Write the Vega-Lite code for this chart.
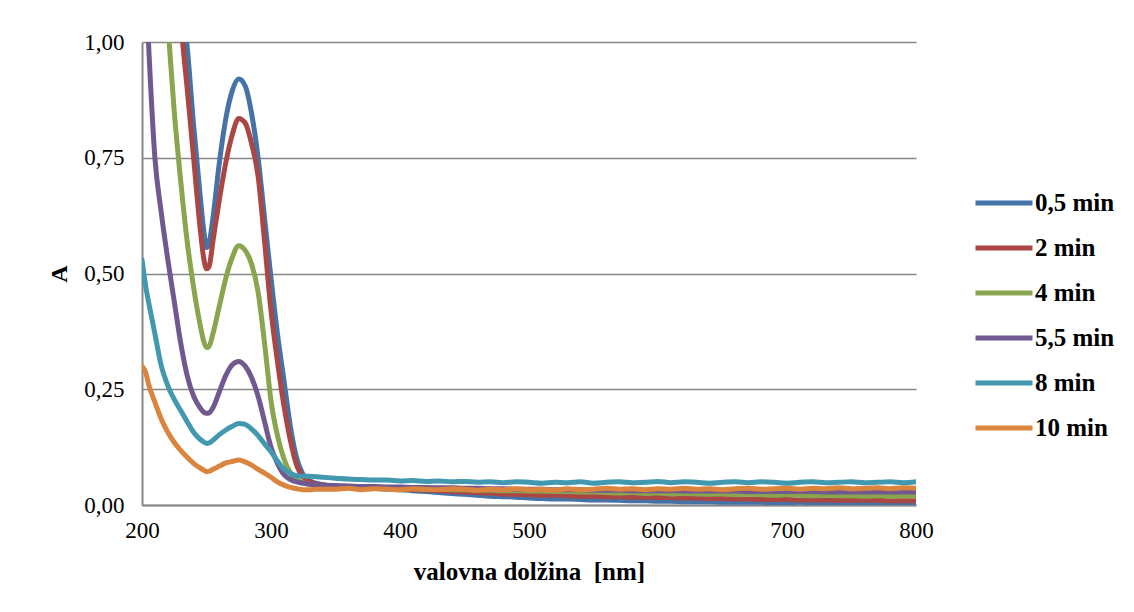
{
  "$schema": "https://vega.github.io/schema/vega-lite/v6.json",
  "width": 774,
  "height": 463,
  "autosize": {"type": "none"},
  "padding": {"left": 142, "top": 42, "right": 218, "bottom": 107},
  "background": "white",
  "config": {
    "view": {"stroke": null},
    "font": "Liberation Serif"
  },
  "data": {
    "values": [
      {"wl":200,"t05":2.6,"t2":2.6,"t4":2.0,"t55":1.4,"t8":0.53,"t10":0.30},
      {"wl":203,"t05":2.4,"t2":2.38,"t4":1.82,"t55":1.12,"t8":0.47,"t10":0.285},
      {"wl":205,"t05":2.3,"t2":2.25,"t4":1.7,"t55":1.0,"t8":0.44,"t10":0.262},
      {"wl":210,"t05":2.0,"t2":1.9,"t4":1.45,"t55":0.75,"t8":0.37,"t10":0.222},
      {"wl":215,"t05":1.7,"t2":1.6,"t4":1.22,"t55":0.63,"t8":0.3,"t10":0.185},
      {"wl":220,"t05":1.45,"t2":1.35,"t4":1.04,"t55":0.53,"t8":0.258,"t10":0.157},
      {"wl":225,"t05":1.25,"t2":1.17,"t4":0.85,"t55":0.44,"t8":0.228,"t10":0.135},
      {"wl":230,"t05":1.1,"t2":1.04,"t4":0.7,"t55":0.35,"t8":0.204,"t10":0.118},
      {"wl":235,"t05":0.99,"t2":0.9,"t4":0.57,"t55":0.28,"t8":0.18,"t10":0.103},
      {"wl":240,"t05":0.82,"t2":0.75,"t4":0.47,"t55":0.235,"t8":0.157,"t10":0.09},
      {"wl":245,"t05":0.67,"t2":0.6,"t4":0.39,"t55":0.21,"t8":0.142,"t10":0.08},
      {"wl":248,"t05":0.59,"t2":0.53,"t4":0.352,"t55":0.2,"t8":0.136,"t10":0.075},
      {"wl":250,"t05":0.556,"t2":0.51,"t4":0.34,"t55":0.198,"t8":0.133,"t10":0.072},
      {"wl":252,"t05":0.565,"t2":0.515,"t4":0.343,"t55":0.199,"t8":0.134,"t10":0.073},
      {"wl":255,"t05":0.62,"t2":0.57,"t4":0.37,"t55":0.21,"t8":0.14,"t10":0.077},
      {"wl":260,"t05":0.74,"t2":0.66,"t4":0.43,"t55":0.245,"t8":0.152,"t10":0.084},
      {"wl":265,"t05":0.835,"t2":0.74,"t4":0.49,"t55":0.28,"t8":0.162,"t10":0.091},
      {"wl":270,"t05":0.895,"t2":0.8,"t4":0.535,"t55":0.303,"t8":0.17,"t10":0.094},
      {"wl":275,"t05":0.92,"t2":0.835,"t4":0.56,"t55":0.31,"t8":0.176,"t10":0.097},
      {"wl":280,"t05":0.905,"t2":0.825,"t4":0.55,"t55":0.3,"t8":0.174,"t10":0.093},
      {"wl":285,"t05":0.845,"t2":0.78,"t4":0.52,"t55":0.275,"t8":0.164,"t10":0.086},
      {"wl":290,"t05":0.75,"t2":0.71,"t4":0.46,"t55":0.235,"t8":0.15,"t10":0.077},
      {"wl":295,"t05":0.62,"t2":0.57,"t4":0.35,"t55":0.18,"t8":0.132,"t10":0.069},
      {"wl":300,"t05":0.49,"t2":0.42,"t4":0.225,"t55":0.125,"t8":0.115,"t10":0.06},
      {"wl":305,"t05":0.37,"t2":0.31,"t4":0.15,"t55":0.09,"t8":0.095,"t10":0.05},
      {"wl":310,"t05":0.27,"t2":0.215,"t4":0.1,"t55":0.066,"t8":0.078,"t10":0.043},
      {"wl":315,"t05":0.17,"t2":0.14,"t4":0.07,"t55":0.055,"t8":0.068,"t10":0.038},
      {"wl":320,"t05":0.1,"t2":0.085,"t4":0.055,"t55":0.05,"t8":0.063,"t10":0.035},
      {"wl":325,"t05":0.065,"t2":0.06,"t4":0.048,"t55":0.047,"t8":0.062,"t10":0.033},
      {"wl":330,"t05":0.052,"t2":0.05,"t4":0.045,"t55":0.045,"t8":0.062,"t10":0.033},
      {"wl":335,"t05":0.047,"t2":0.045,"t4":0.043,"t55":0.044,"t8":0.061,"t10":0.034},
      {"wl":340,"t05":0.044,"t2":0.043,"t4":0.042,"t55":0.043,"t8":0.06,"t10":0.034},
      {"wl":350,"t05":0.040,"t2":0.040,"t4":0.040,"t55":0.042,"t8":0.058,"t10":0.034},
      {"wl":360,"t05":0.038,"t2":0.039,"t4":0.039,"t55":0.041,"t8":0.056,"t10":0.036},
      {"wl":370,"t05":0.037,"t2":0.038,"t4":0.038,"t55":0.040,"t8":0.055,"t10":0.033},
      {"wl":380,"t05":0.036,"t2":0.037,"t4":0.037,"t55":0.040,"t8":0.054,"t10":0.035},
      {"wl":390,"t05":0.034,"t2":0.036,"t4":0.036,"t55":0.039,"t8":0.054,"t10":0.034},
      {"wl":400,"t05":0.033,"t2":0.035,"t4":0.035,"t55":0.039,"t8":0.052,"t10":0.033},
      {"wl":410,"t05":0.031,"t2":0.033,"t4":0.035,"t55":0.038,"t8":0.053,"t10":0.035},
      {"wl":420,"t05":0.029,"t2":0.032,"t4":0.034,"t55":0.038,"t8":0.051,"t10":0.034},
      {"wl":430,"t05":0.027,"t2":0.031,"t4":0.034,"t55":0.037,"t8":0.052,"t10":0.033},
      {"wl":440,"t05":0.025,"t2":0.029,"t4":0.033,"t55":0.037,"t8":0.050,"t10":0.035},
      {"wl":450,"t05":0.023,"t2":0.028,"t4":0.033,"t55":0.036,"t8":0.051,"t10":0.034},
      {"wl":460,"t05":0.021,"t2":0.027,"t4":0.032,"t55":0.036,"t8":0.049,"t10":0.032},
      {"wl":470,"t05":0.019,"t2":0.026,"t4":0.032,"t55":0.035,"t8":0.050,"t10":0.034},
      {"wl":480,"t05":0.018,"t2":0.024,"t4":0.031,"t55":0.035,"t8":0.048,"t10":0.033},
      {"wl":490,"t05":0.017,"t2":0.023,"t4":0.031,"t55":0.034,"t8":0.050,"t10":0.035},
      {"wl":500,"t05":0.015,"t2":0.022,"t4":0.030,"t55":0.034,"t8":0.049,"t10":0.033},
      {"wl":510,"t05":0.014,"t2":0.021,"t4":0.030,"t55":0.034,"t8":0.047,"t10":0.034},
      {"wl":520,"t05":0.013,"t2":0.021,"t4":0.029,"t55":0.033,"t8":0.049,"t10":0.032},
      {"wl":530,"t05":0.013,"t2":0.020,"t4":0.029,"t55":0.033,"t8":0.048,"t10":0.035},
      {"wl":540,"t05":0.012,"t2":0.019,"t4":0.028,"t55":0.033,"t8":0.050,"t10":0.033},
      {"wl":550,"t05":0.011,"t2":0.019,"t4":0.028,"t55":0.032,"t8":0.047,"t10":0.034},
      {"wl":560,"t05":0.011,"t2":0.018,"t4":0.027,"t55":0.032,"t8":0.049,"t10":0.036},
      {"wl":570,"t05":0.010,"t2":0.018,"t4":0.026,"t55":0.032,"t8":0.050,"t10":0.034},
      {"wl":580,"t05":0.009,"t2":0.017,"t4":0.027,"t55":0.031,"t8":0.048,"t10":0.035},
      {"wl":590,"t05":0.009,"t2":0.017,"t4":0.025,"t55":0.031,"t8":0.049,"t10":0.033},
      {"wl":600,"t05":0.008,"t2":0.016,"t4":0.026,"t55":0.031,"t8":0.051,"t10":0.035},
      {"wl":610,"t05":0.008,"t2":0.016,"t4":0.024,"t55":0.031,"t8":0.048,"t10":0.034},
      {"wl":620,"t05":0.007,"t2":0.015,"t4":0.025,"t55":0.030,"t8":0.050,"t10":0.036},
      {"wl":630,"t05":0.007,"t2":0.015,"t4":0.024,"t55":0.030,"t8":0.049,"t10":0.034},
      {"wl":640,"t05":0.007,"t2":0.014,"t4":0.023,"t55":0.030,"t8":0.047,"t10":0.035},
      {"wl":650,"t05":0.006,"t2":0.014,"t4":0.024,"t55":0.030,"t8":0.049,"t10":0.033},
      {"wl":660,"t05":0.006,"t2":0.013,"t4":0.022,"t55":0.030,"t8":0.050,"t10":0.035},
      {"wl":670,"t05":0.006,"t2":0.013,"t4":0.023,"t55":0.029,"t8":0.048,"t10":0.036},
      {"wl":680,"t05":0.006,"t2":0.012,"t4":0.022,"t55":0.029,"t8":0.050,"t10":0.034},
      {"wl":690,"t05":0.005,"t2":0.012,"t4":0.021,"t55":0.029,"t8":0.049,"t10":0.035},
      {"wl":700,"t05":0.005,"t2":0.012,"t4":0.022,"t55":0.029,"t8":0.047,"t10":0.036},
      {"wl":710,"t05":0.006,"t2":0.011,"t4":0.021,"t55":0.029,"t8":0.049,"t10":0.034},
      {"wl":720,"t05":0.005,"t2":0.011,"t4":0.020,"t55":0.029,"t8":0.050,"t10":0.036},
      {"wl":730,"t05":0.005,"t2":0.011,"t4":0.021,"t55":0.028,"t8":0.048,"t10":0.035},
      {"wl":740,"t05":0.004,"t2":0.010,"t4":0.020,"t55":0.028,"t8":0.049,"t10":0.037},
      {"wl":750,"t05":0.005,"t2":0.010,"t4":0.020,"t55":0.028,"t8":0.050,"t10":0.035},
      {"wl":760,"t05":0.004,"t2":0.010,"t4":0.019,"t55":0.028,"t8":0.048,"t10":0.036},
      {"wl":770,"t05":0.005,"t2":0.010,"t4":0.020,"t55":0.028,"t8":0.049,"t10":0.037},
      {"wl":780,"t05":0.004,"t2":0.009,"t4":0.019,"t55":0.028,"t8":0.050,"t10":0.035},
      {"wl":790,"t05":0.004,"t2":0.009,"t4":0.020,"t55":0.028,"t8":0.048,"t10":0.037},
      {"wl":800,"t05":0.004,"t2":0.009,"t4":0.019,"t55":0.028,"t8":0.050,"t10":0.036}
    ]
  },
  "transform": [
    {"fold": ["t05", "t2", "t4", "t55", "t8", "t10"], "as": ["series", "A"]}
  ],
  "mark": {"type": "line", "clip": true, "strokeWidth": 5, "strokeCap": "round", "strokeJoin": "round", "interpolate": "monotone"},
  "encoding": {
    "x": {
      "field": "wl", "type": "quantitative",
      "scale": {"domain": [200, 800], "nice": false, "zero": false},
      "axis": {
        "title": "valovna dolžina\u00a0 [nm]",
        "values": [200, 300, 400, 500, 600, 700, 800],
        "grid": false, "ticks": false, "labelFlush": false,
        "domainColor": "#868686", "domainWidth": 2,
        "labelFont": "Liberation Serif", "labelFontSize": 23, "labelColor": "#000000",
        "labelPadding": 14,
        "titleFont": "Liberation Serif", "titleFontSize": 25, "titleFontWeight": "bold", "titleColor": "#000000",
        "titlePadding": 17
      }
    },
    "y": {
      "field": "A", "type": "quantitative",
      "scale": {"domain": [0, 1], "nice": false},
      "axis": {
        "title": "A",
        "values": [0, 0.25, 0.5, 0.75, 1],
        "labelExpr": "replace(format(datum.value, '.2f'), '.', ',')",
        "grid": true, "gridColor": "#868686", "gridWidth": 1.5,
        "ticks": false,
        "domainColor": "#868686", "domainWidth": 2,
        "labelFont": "Liberation Serif", "labelFontSize": 23, "labelColor": "#000000",
        "labelPadding": 18,
        "titleFont": "Liberation Serif", "titleFontSize": 24, "titleFontWeight": "bold", "titleColor": "#000000",
        "titlePadding": 12
      }
    },
    "color": {
      "field": "series", "type": "nominal",
      "scale": {
        "domain": ["t05", "t2", "t4", "t55", "t8", "t10"],
        "range": ["#4572A7", "#AA4643", "#89A54E", "#71588F", "#4198AF", "#DB843D"]
      },
      "legend": {
        "title": null,
        "orient": "none",
        "legendX": 831,
        "legendY": 130,
        "padding": 0,
        "symbolType": "stroke",
        "symbolSize": 3249,
        "symbolStrokeWidth": 5,
        "rowPadding": 1,
        "labelOffset": 0,
        "labelFont": "Liberation Serif", "labelFontSize": 25, "labelFontWeight": "bold", "labelColor": "#000000",
        "labelExpr": "{'t05':'0,5 min','t2':'2 min','t4':'4 min','t55':'5,5 min','t8':'8 min','t10':'10 min'}[datum.value]"
      }
    }
  }
}
